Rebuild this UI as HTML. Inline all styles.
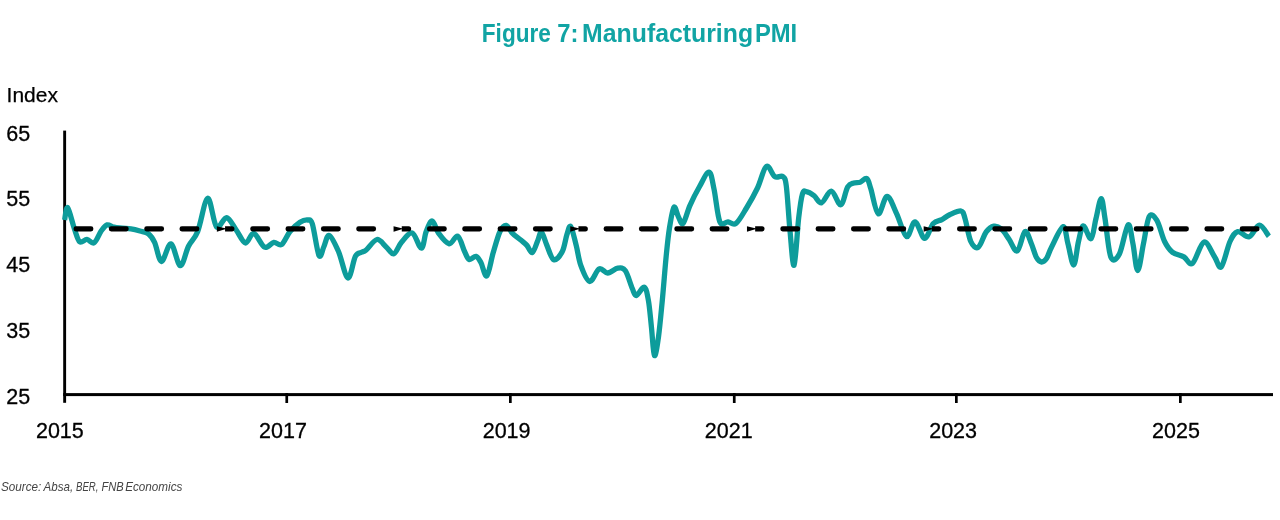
<!DOCTYPE html>
<html><head><meta charset="utf-8"><style>
html,body{margin:0;padding:0;background:#fff;width:1280px;height:520px;overflow:hidden}
svg{display:block;will-change:transform}
.ax{font-family:"Liberation Sans",sans-serif;font-size:21.5px;fill:#000;stroke:#000;stroke-width:0.3px}
.ttl{font-family:"Liberation Sans",sans-serif;font-weight:bold;font-size:26px;fill:#11a4a4}
.idx{font-family:"Liberation Sans",sans-serif;font-size:21px;fill:#000;stroke:#000;stroke-width:0.25px}
.src{font-family:"Liberation Sans",sans-serif;font-style:italic;font-size:12.8px;fill:#444}
</style></head><body>
<svg width="1280" height="520" viewBox="0 0 1280 520">
<text transform="translate(481.8 41.9) scale(0.870 1)" class="ttl">Figure</text><text transform="translate(557.2 41.9) scale(0.915 1)" class="ttl">7:</text><text transform="translate(582.1 41.9) scale(0.955 1)" class="ttl">Manufacturing</text><text transform="translate(754.9 41.9) scale(0.916 1)" class="ttl">PMI</text>
<text x="6.6" y="102.1" class="idx">Index</text>
<text transform="translate(59.85 437.8)" text-anchor="middle" class="ax">2015</text><text transform="translate(283.00 437.8)" text-anchor="middle" class="ax">2017</text><text transform="translate(506.60 437.8)" text-anchor="middle" class="ax">2019</text><text transform="translate(728.75 437.8)" text-anchor="middle" class="ax">2021</text><text transform="translate(953.10 437.8)" text-anchor="middle" class="ax">2023</text><text transform="translate(1176.00 437.8)" text-anchor="middle" class="ax">2025</text><text transform="translate(6.2 140.9)" class="ax">65</text><text transform="translate(6.2 206.2)" class="ax">55</text><text transform="translate(6.2 271.9)" class="ax">45</text><text transform="translate(6.2 337.9)" class="ax">35</text><text transform="translate(6.2 403.8)" class="ax">25</text>
<rect x="63.2" y="130.6" width="2.9" height="272.2" fill="#000"/>
<rect x="63.2" y="393.1" width="1209.8" height="3" fill="#000"/>
<rect x="285.4" y="393" width="2.7" height="10" fill="#000"/><rect x="509.0" y="393" width="2.7" height="10" fill="#000"/><rect x="732.9" y="393" width="2.7" height="10" fill="#000"/><rect x="955.0" y="393" width="2.7" height="10" fill="#000"/><rect x="1179.0" y="393" width="2.7" height="10" fill="#000"/>
<path d="M64.6 220.0 C65.1 217.9 66.1 206.2 67.7 207.7 C69.3 209.2 72.4 223.1 74.4 228.8 C76.4 234.5 77.6 240.0 79.7 241.8 C81.8 243.6 84.5 239.2 86.9 239.4 C89.3 239.6 91.7 244.2 94.1 242.8 C96.5 241.4 99.1 233.8 101.3 230.8 C103.5 227.8 105.0 225.5 107.1 224.9 C109.2 224.3 111.5 226.6 114.0 227.2 C116.5 227.8 119.2 227.9 122.0 228.2 C124.8 228.5 128.0 228.4 131.0 228.9 C134.0 229.4 137.1 230.2 140.0 231.0 C142.9 231.8 146.1 231.9 148.5 233.8 C150.9 235.7 152.4 237.7 154.6 242.3 C156.8 246.9 158.8 261.2 161.5 261.5 C164.2 261.8 167.8 243.1 170.9 243.8 C174.0 244.5 177.4 265.3 180.3 265.7 C183.2 266.1 185.6 251.9 188.5 246.2 C191.4 240.5 194.5 239.5 197.7 231.5 C200.9 223.5 204.6 199.1 207.7 198.3 C210.8 197.5 213.3 223.6 216.5 226.8 C219.7 230.0 223.3 217.1 226.6 217.6 C229.9 218.1 233.1 225.8 236.2 230.0 C239.3 234.2 242.5 242.4 245.4 243.0 C248.3 243.6 250.6 232.7 253.8 233.4 C257.0 234.1 261.3 245.7 264.6 247.2 C267.9 248.7 271.0 242.7 273.8 242.3 C276.6 241.9 278.8 246.4 281.5 244.6 C284.2 242.8 286.9 235.2 290.0 231.5 C293.1 227.8 297.1 224.2 300.0 222.3 C302.9 220.4 305.6 219.8 307.7 220.0 C309.8 220.2 310.4 217.9 312.3 223.8 C314.2 229.7 317.1 251.7 319.0 255.5 C320.9 259.4 322.1 250.2 323.8 246.9 C325.5 243.6 326.8 234.6 329.2 235.4 C331.6 236.2 335.4 244.4 338.5 251.5 C341.6 258.6 345.1 277.2 347.9 278.0 C350.7 278.8 353.1 260.5 355.4 256.2 C357.7 251.9 359.7 253.3 361.5 252.3 C363.3 251.3 363.6 252.1 366.2 250.0 C368.8 247.9 373.6 240.0 376.9 239.5 C380.2 239.0 383.4 244.5 386.2 246.9 C389.0 249.3 391.2 254.6 393.8 253.8 C396.4 253.0 398.4 245.8 401.5 242.3 C404.6 238.9 409.0 232.1 412.3 233.1 C415.6 234.1 419.1 248.5 421.4 248.2 C423.7 247.9 424.4 236.0 426.2 231.5 C428.0 227.0 430.2 220.7 432.3 221.0 C434.4 221.3 435.7 229.3 438.5 233.1 C441.3 236.9 446.0 243.3 449.2 243.8 C452.4 244.3 455.1 234.9 457.7 236.2 C460.3 237.5 462.7 247.6 464.6 251.5 C466.5 255.4 467.3 258.7 469.2 259.5 C471.1 260.3 474.1 255.9 476.0 256.4 C477.9 256.9 479.0 259.1 480.8 262.3 C482.6 265.5 484.8 277.3 486.8 275.8 C488.9 274.3 490.9 260.5 493.1 253.1 C495.3 245.7 497.8 236.1 500.0 231.5 C502.2 226.9 504.1 225.1 506.2 225.4 C508.2 225.7 509.9 230.7 512.3 233.1 C514.7 235.5 518.4 237.9 520.8 240.0 C523.2 242.1 525.0 243.3 526.9 245.4 C528.8 247.5 530.5 253.4 532.3 252.6 C534.1 251.8 536.2 244.2 537.7 240.8 C539.2 237.4 540.0 231.2 541.5 232.0 C543.0 232.8 544.9 240.8 546.9 245.4 C548.9 250.0 551.2 258.8 553.8 259.8 C556.4 260.8 560.1 255.7 562.3 251.5 C564.5 247.3 565.5 238.8 566.9 234.6 C568.3 230.4 569.2 224.8 570.8 226.6 C572.3 228.4 574.5 238.9 576.2 245.4 C577.9 251.9 578.6 259.4 580.8 265.4 C583.0 271.4 586.5 280.9 589.6 281.5 C592.7 282.1 596.2 270.3 599.2 268.9 C602.2 267.5 604.6 273.1 607.7 273.0 C610.8 272.9 614.8 268.6 617.7 268.2 C620.7 267.8 623.0 267.4 625.4 270.8 C627.8 274.2 630.4 284.2 632.2 288.3 C634.0 292.4 634.3 295.7 636.3 295.5 C638.3 295.3 642.3 286.5 644.3 287.3 C646.3 288.1 647.2 293.8 648.4 300.4 C649.6 307.0 650.4 317.5 651.4 326.7 C652.4 335.9 653.2 353.8 654.4 355.5 C655.6 357.2 657.2 346.0 658.5 336.8 C659.8 327.6 661.0 313.9 662.3 300.4 C663.6 286.9 665.0 268.0 666.2 256.0 C667.4 244.0 668.1 236.6 669.4 228.5 C670.7 220.4 672.4 209.2 673.9 207.3 C675.4 205.4 677.0 214.3 678.5 217.0 C680.0 219.7 681.2 225.3 683.1 223.4 C685.0 221.5 687.3 211.5 690.0 205.4 C692.7 199.3 696.1 192.5 699.3 187.0 C702.5 181.5 706.5 171.9 709.0 172.2 C711.5 172.5 712.2 180.7 714.0 189.0 C715.8 197.3 717.5 216.3 719.8 221.8 C722.1 227.3 725.3 221.5 728.0 221.8 C730.7 222.1 732.9 225.7 736.0 223.4 C739.1 221.1 742.9 213.9 746.5 208.0 C750.1 202.1 754.2 194.9 757.5 188.0 C760.8 181.1 763.5 168.3 766.4 166.4 C769.3 164.5 772.0 174.9 774.7 176.6 C777.4 178.3 780.9 175.0 782.8 176.6 C784.7 178.2 785.1 177.0 786.3 186.0 C787.5 195.0 788.7 217.6 790.0 230.8 C791.3 244.0 792.6 267.4 794.1 265.2 C795.6 263.0 797.3 229.6 798.7 217.7 C800.1 205.8 801.2 198.0 802.5 193.7 C803.8 189.4 804.4 191.4 806.3 191.7 C808.2 192.0 811.5 193.8 814.0 195.6 C816.5 197.4 818.6 203.5 821.5 202.8 C824.4 202.1 828.1 190.9 831.3 191.2 C834.5 191.5 838.1 205.5 840.8 204.8 C843.5 204.1 845.5 190.5 847.7 186.9 C849.9 183.3 851.7 183.8 853.8 183.0 C855.9 182.2 858.0 182.9 860.2 182.2 C862.4 181.5 865.0 177.5 866.8 178.6 C868.6 179.7 868.9 182.9 870.8 188.8 C872.7 194.7 875.5 212.5 878.2 213.8 C880.9 215.1 884.0 196.5 887.1 196.5 C890.2 196.5 893.5 207.1 896.7 213.8 C899.9 220.5 903.5 235.2 906.5 236.6 C909.5 237.9 912.0 221.6 915.0 221.9 C918.0 222.2 921.6 238.0 924.6 238.3 C927.6 238.6 930.4 226.6 933.3 223.5 C936.2 220.4 939.2 221.0 941.9 219.6 C944.6 218.2 946.4 216.2 949.6 214.8 C952.8 213.4 958.4 210.4 961.0 211.0 C963.6 211.6 963.4 213.4 965.0 218.5 C966.6 223.6 968.6 236.7 970.8 241.5 C973.0 246.3 975.7 248.8 978.3 247.2 C980.9 245.6 983.6 235.4 986.2 231.9 C988.8 228.4 991.2 226.7 993.8 226.2 C996.3 225.7 998.9 226.8 1001.5 229.0 C1004.1 231.2 1006.6 235.9 1009.2 239.6 C1011.8 243.3 1014.7 252.3 1017.3 251.0 C1019.9 249.7 1022.7 232.8 1025.0 231.5 C1027.3 230.2 1029.4 239.2 1031.3 243.5 C1033.2 247.8 1034.8 254.5 1036.5 257.6 C1038.2 260.7 1039.8 261.9 1041.5 262.0 C1043.2 262.1 1044.8 260.9 1046.5 258.5 C1048.2 256.1 1048.7 252.6 1051.5 247.3 C1054.3 242.0 1060.4 227.3 1063.1 226.7 C1065.8 226.1 1066.1 237.1 1067.9 243.5 C1069.7 249.9 1071.9 265.3 1073.7 265.0 C1075.5 264.7 1076.9 248.0 1078.5 241.5 C1080.1 235.0 1081.2 226.3 1083.3 225.8 C1085.4 225.3 1088.9 239.9 1091.0 238.7 C1093.1 237.5 1094.3 225.2 1096.0 218.5 C1097.7 211.8 1099.7 198.6 1101.2 198.6 C1102.7 198.6 1103.4 208.8 1105.0 218.5 C1106.6 228.2 1108.4 251.0 1110.8 256.9 C1113.2 262.8 1116.5 259.4 1119.4 254.0 C1122.3 248.7 1125.8 226.6 1128.1 224.8 C1130.3 223.1 1131.3 235.9 1132.9 243.5 C1134.5 251.1 1135.9 270.5 1137.7 270.5 C1139.5 270.5 1141.6 252.5 1143.5 243.5 C1145.4 234.5 1147.0 220.3 1149.2 216.5 C1151.4 212.7 1154.3 216.2 1156.9 220.4 C1159.5 224.6 1162.0 236.2 1164.6 241.5 C1167.2 246.8 1169.1 249.5 1172.3 252.1 C1175.5 254.7 1180.4 255.0 1183.8 256.9 C1187.2 258.8 1189.1 265.8 1192.5 263.3 C1195.9 260.8 1200.3 243.2 1204.0 242.1 C1207.7 241.0 1211.7 252.8 1214.6 256.9 C1217.5 261.0 1218.7 269.4 1221.3 266.8 C1223.9 264.2 1227.3 247.4 1230.0 241.5 C1232.7 235.6 1234.5 232.4 1237.7 231.6 C1240.9 230.8 1245.6 237.8 1249.2 236.7 C1252.8 235.6 1256.0 225.3 1259.3 225.2 C1262.6 225.1 1267.3 234.4 1268.9 236.2" fill="none" stroke="#0d9c9b" stroke-width="5.3" stroke-linejoin="round" stroke-linecap="butt"/>
<rect x="73.5" y="226.3" width="19.9" height="5.2" rx="2.4" fill="#000"/><rect x="108.8" y="226.3" width="19.9" height="5.2" rx="2.4" fill="#000"/><rect x="144.2" y="226.3" width="19.9" height="5.2" rx="2.4" fill="#000"/><rect x="179.5" y="226.3" width="19.9" height="5.2" rx="2.4" fill="#000"/><path d="M216.86 226.3 L225.06 228.3 L225.06 226.3 L231.96 226.3 A2.5 2.5 0 0 1 234.46 228.8 A2.5 2.5 0 0 1 231.96 231.4 L225.06 231.4 L225.06 229.3 L216.86 231.7 Z" fill="#000"/><rect x="250.2" y="226.3" width="19.9" height="5.2" rx="2.4" fill="#000"/><rect x="285.5" y="226.3" width="19.9" height="5.2" rx="2.4" fill="#000"/><rect x="320.9" y="226.3" width="19.9" height="5.2" rx="2.4" fill="#000"/><rect x="356.2" y="226.3" width="19.9" height="5.2" rx="2.4" fill="#000"/><path d="M393.56 226.3 L401.76 228.3 L401.76 226.3 L408.66 226.3 A2.5 2.5 0 0 1 411.16 228.8 A2.5 2.5 0 0 1 408.66 231.4 L401.76 231.4 L401.76 229.3 L393.56 231.7 Z" fill="#000"/><rect x="426.9" y="226.3" width="19.9" height="5.2" rx="2.4" fill="#000"/><rect x="462.2" y="226.3" width="19.9" height="5.2" rx="2.4" fill="#000"/><rect x="497.6" y="226.3" width="19.9" height="5.2" rx="2.4" fill="#000"/><rect x="532.9" y="226.3" width="19.9" height="5.2" rx="2.4" fill="#000"/><path d="M570.26 226.3 L578.46 228.3 L578.46 226.3 L585.36 226.3 A2.5 2.5 0 0 1 587.86 228.8 A2.5 2.5 0 0 1 585.36 231.4 L578.46 231.4 L578.46 229.3 L570.26 231.7 Z" fill="#000"/><rect x="603.6" y="226.3" width="19.9" height="5.2" rx="2.4" fill="#000"/><rect x="638.9" y="226.3" width="19.9" height="5.2" rx="2.4" fill="#000"/><rect x="674.3" y="226.3" width="19.9" height="5.2" rx="2.4" fill="#000"/><rect x="709.6" y="226.3" width="19.9" height="5.2" rx="2.4" fill="#000"/><path d="M746.96 226.3 L755.16 228.3 L755.16 226.3 L762.06 226.3 A2.5 2.5 0 0 1 764.56 228.8 A2.5 2.5 0 0 1 762.06 231.4 L755.16 231.4 L755.16 229.3 L746.96 231.7 Z" fill="#000"/><rect x="780.3" y="226.3" width="19.9" height="5.2" rx="2.4" fill="#000"/><rect x="815.6" y="226.3" width="19.9" height="5.2" rx="2.4" fill="#000"/><rect x="851.0" y="226.3" width="19.9" height="5.2" rx="2.4" fill="#000"/><rect x="886.3" y="226.3" width="19.9" height="5.2" rx="2.4" fill="#000"/><path d="M923.66 226.3 L931.86 228.3 L931.86 226.3 L938.76 226.3 A2.5 2.5 0 0 1 941.26 228.8 A2.5 2.5 0 0 1 938.76 231.4 L931.86 231.4 L931.86 229.3 L923.66 231.7 Z" fill="#000"/><rect x="957.0" y="226.3" width="19.9" height="5.2" rx="2.4" fill="#000"/><rect x="992.3" y="226.3" width="19.9" height="5.2" rx="2.4" fill="#000"/><rect x="1027.7" y="226.3" width="19.9" height="5.2" rx="2.4" fill="#000"/><rect x="1063.0" y="226.3" width="19.9" height="5.2" rx="2.4" fill="#000"/><rect x="1098.4" y="226.3" width="19.9" height="5.2" rx="2.4" fill="#000"/><rect x="1133.7" y="226.3" width="19.9" height="5.2" rx="2.4" fill="#000"/><rect x="1169.0" y="226.3" width="19.9" height="5.2" rx="2.4" fill="#000"/><rect x="1204.4" y="226.3" width="19.9" height="5.2" rx="2.4" fill="#000"/><rect x="1239.7" y="226.3" width="19.9" height="5.2" rx="2.4" fill="#000"/>
<text transform="translate(1.0 490.9) scale(0.915 1)" class="src">Source:</text><text transform="translate(43.6 490.9) scale(0.906 1)" class="src">Absa,</text><text transform="translate(76.0 490.9) scale(0.75 1)" class="src">BER,</text><text transform="translate(101.4 490.9) scale(0.87 1)" class="src">FNB</text><text transform="translate(125.2 490.9) scale(0.915 1)" class="src">Economics</text>
</svg>
</body></html>
